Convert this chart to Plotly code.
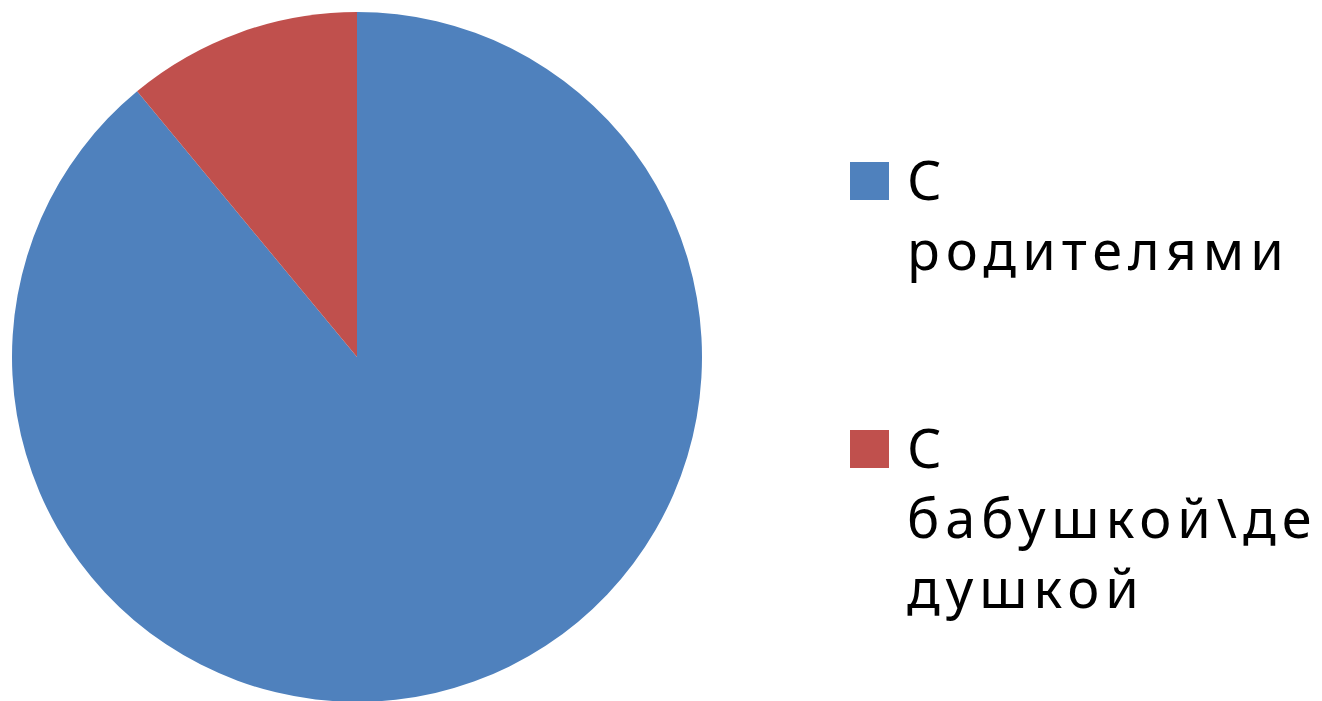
import plotly.graph_objects as go

labels = ["С<br>родителями", "С<br>бабушкой\\де<br>душкой"]
values = [89, 11]
colors = ["#4F81BD", "#C0504D"]

W, H = 1322, 701
OFF = 8  # page body margin

fig = go.Figure()
fig.add_trace(go.Pie(
    labels=labels,
    values=values,
    marker=dict(colors=colors, line=dict(width=0)),
    sort=False,
    direction="clockwise",
    rotation=0,
    textinfo="none",
    hoverinfo="label+percent",
    showlegend=False,
    domain=dict(x=[(12 - OFF) / W, (702 - OFF) / W],
                y=[1 - (702 - OFF) / H, 1 - (12 - OFF) / H]),
))

# manual legend (large swatches + wrapped labels)
legend_tops = [162, 430]
shapes = []
annotations = []
for lab, col, top in zip(labels, colors, legend_tops):
    t = top - OFF
    shapes.append(dict(
        type="rect", xref="paper", yref="paper",
        x0=(850 - OFF) / W, x1=(889 - OFF) / W,
        y0=1 - (t + 38) / H, y1=1 - t / H,
        fillcolor=col, line=dict(width=0),
    ))
    annotations.append(dict(
        xref="paper", yref="paper", x=(905 - OFF) / W, y=1 - (t - 22) / H,
        xanchor="left", yanchor="top", align="left", showarrow=False,
        text="<span style='letter-spacing:6px'>" + lab + "</span>",
        font=dict(family="Noto Sans", size=54, color="#000000"),
    ))

fig.update_layout(
    width=W, height=H,
    margin=dict(l=0, r=0, t=0, b=0),
    paper_bgcolor="white",
    plot_bgcolor="white",
    shapes=shapes,
    annotations=annotations,
)

fig.write_html("out.html")
